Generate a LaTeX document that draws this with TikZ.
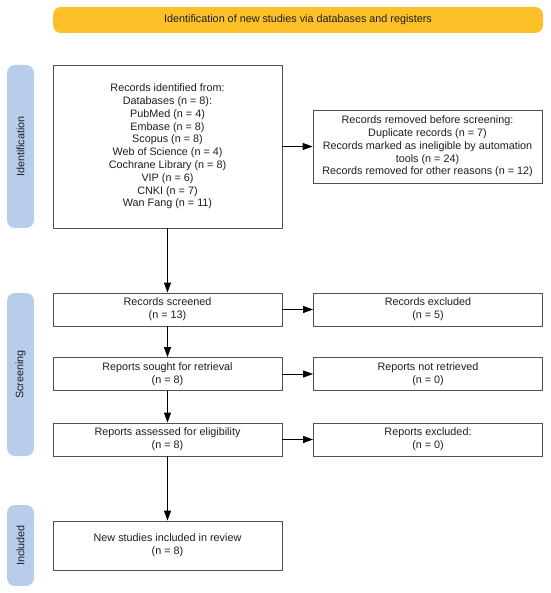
\documentclass[tikz,border=0pt]{standalone}
\usepackage{fontspec}
\setmainfont{Liberation Sans}
\usetikzlibrary{arrows.meta}
\definecolor{banner}{RGB}{252,193,40}
\definecolor{sidebar}{RGB}{184,204,236}
\definecolor{boxline}{RGB}{80,80,80}
\definecolor{txt}{RGB}{30,30,30}
\tikzset{
  flowbox/.style={draw=boxline, line width=0.9pt, fill=white, align=center, inner sep=2pt,
    font=\fontsize{10.8}{12.8}\selectfont, text=txt},
  sidebarbox/.style={fill=sidebar, rounded corners=8pt, inner sep=0pt},
  sidelabel/.style={rotate=90, font=\fontsize{10.8}{12}\selectfont, text=txt},
  flowarrow/.style={draw=black, line width=0.9pt, -{Triangle[length=10pt,width=7pt]}},
}
\begin{document}
\begin{tikzpicture}[x=1pt,y=-1pt]
\useasboundingbox (0,0) rectangle (550,593);
% banner
\node[fill=banner, rounded corners=8pt, minimum width=490pt, minimum height=26pt, inner sep=0pt,
  font=\fontsize{10.8}{12}\selectfont, text=txt] (banner) at (298,20) {Identification of new studies via databases and registers};
% side bars
\node[sidebarbox, minimum width=27pt, minimum height=163pt] (idbar) at (20.5,146.5) {};
\node[sidelabel] (idlab) at (idbar.center) {Identification};
\node[sidebarbox, minimum width=27pt, minimum height=163pt] (scbar) at (20.5,374.5) {};
\node[sidelabel] (sclab) at (scbar.center) {Screening};
\node[sidebarbox, minimum width=27pt, minimum height=81pt] (inbar) at (20.5,545.5) {};
\node[sidelabel] (inlab) at (inbar.center) {Included};
% boxes
\node[flowbox, minimum width=229pt, minimum height=163pt] (ident) at (167.5,146.5)
 {Records identified from:\\Databases (n = 8):\\PubMed (n = 4)\\Embase (n = 8)\\Scopus (n = 8)\\Web of Science (n = 4)\\Cochrane Library (n = 8)\\VIP (n = 6)\\CNKI (n = 7)\\Wan Fang (n = 11)};
\node[flowbox, minimum width=229pt, minimum height=73pt] (removed) at (427.5,146.5)
 {Records removed before screening:\\Duplicate records (n = 7)\\Records marked as ineligible by automation\\tools (n = 24)\\Records removed for other reasons (n = 12)};
\node[flowbox, minimum width=229pt, minimum height=33pt] (screened) at (167.5,309.5) {Records screened\\(n = 13)};
\node[flowbox, minimum width=229pt, minimum height=33pt] (excluded) at (428,309.5) {Records excluded\\(n = 5)};
\node[flowbox, minimum width=229pt, minimum height=33pt] (sought) at (167.5,374) {Reports sought for retrieval\\(n = 8)};
\node[flowbox, minimum width=229pt, minimum height=33pt] (notret) at (428,374) {Reports not retrieved\\(n = 0)};
\node[flowbox, minimum width=229pt, minimum height=33pt] (assessed) at (167.5,439.5) {Reports assessed for eligibility\\(n = 8)};
\node[flowbox, minimum width=229pt, minimum height=33pt] (repexcl) at (428,439.5) {Reports excluded:\\(n = 0)};
\node[flowbox, minimum width=229pt, minimum height=49pt] (included) at (167.5,545.5) {New studies included in review\\(n = 8)};
% arrows
\draw[flowarrow] (ident.east) -- (removed.west);
\draw[flowarrow] (ident.south) -- (screened.north);
\draw[flowarrow] (screened.east) -- (excluded.west);
\draw[flowarrow] (screened.south) -- (sought.north);
\draw[flowarrow] (sought.east) -- (notret.west);
\draw[flowarrow] (sought.south) -- (assessed.north);
\draw[flowarrow] (assessed.east) -- (repexcl.west);
\draw[flowarrow] (assessed.south) -- (included.north);
\end{tikzpicture}
\end{document}
